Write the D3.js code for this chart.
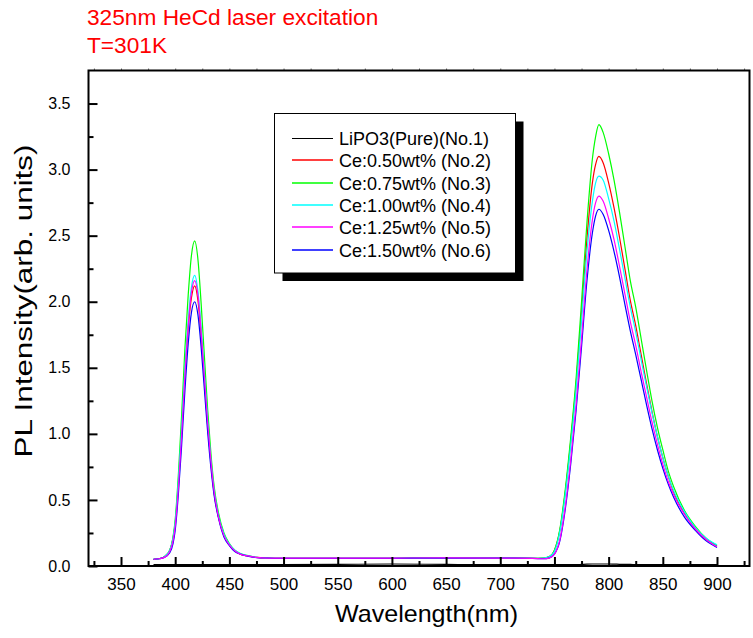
<!DOCTYPE html>
<html><head><meta charset="utf-8">
<script src="https://cdn.jsdelivr.net/npm/d3@7"></script>
<style>body{margin:0;background:#fff}svg{display:block}</style>
</head><body>
<svg id="c" width="753" height="638"></svg>
<script>
const wavelengths = [380,385,390,395,398,400,403,406,409,412,415,418,421,424,427,430,433,436,440,445,450,455,460,466,475,485,
  500,550,600,650,700,730,
  740,745,750,755,760,765,770,775,780,785,788,791,795,800,805,810,815,820,825,830,835,840,845,850,855,860,870,880,890,900];

const pure = [0.01,0.01,0.01,0.01,0.01,0.01,0.01,0.01,0.01,0.01,0.01,0.01,0.01,0.01,0.01,0.01,0.01,0.01,0.01,0.01,0.01,0.01,0.01,0.01,0.01,0.01,
  0.01,0.012,0.015,0.012,0.01,0.01,
  0.01,0.01,0.01,0.01,0.01,0.01,0.01,0.012,0.014,0.015,0.015,0.015,0.015,0.015,0.014,0.013,0.012,0.012,0.011,0.011,0.01,0.01,0.01,0.01,0.01,0.01,0.01,0.01,0.01,0.01];

const ce050 = [0.05,0.055,0.07,0.12,0.21,0.32,0.63,1.02,1.45,1.80,2.03,2.12,2.01,1.74,1.40,1.06,0.78,0.55,0.37,0.23,0.16,0.115,0.09,0.078,0.065,0.06,
  0.058,0.057,0.058,0.06,0.06,0.058,
  0.06,0.07,0.12,0.27,0.56,0.94,1.38,1.92,2.48,2.90,3.04,3.10,3.05,2.90,2.71,2.49,2.25,2.01,1.82,1.60,1.38,1.17,0.98,0.82,0.68,0.56,0.40,0.28,0.20,0.15];

const ce075 = [0.05,0.055,0.07,0.12,0.22,0.35,0.70,1.15,1.65,2.05,2.35,2.46,2.32,1.98,1.58,1.18,0.85,0.60,0.40,0.25,0.17,0.12,0.095,0.08,0.066,0.06,
  0.058,0.057,0.058,0.06,0.06,0.058,
  0.06,0.07,0.12,0.28,0.58,0.97,1.42,2.00,2.60,3.08,3.25,3.34,3.28,3.12,2.92,2.68,2.42,2.16,1.96,1.72,1.48,1.25,1.05,0.88,0.72,0.60,0.42,0.30,0.21,0.155];

const ce100 = [0.05,0.055,0.07,0.12,0.21,0.33,0.65,1.05,1.50,1.86,2.11,2.20,2.08,1.80,1.45,1.10,0.80,0.57,0.38,0.24,0.165,0.12,0.095,0.08,0.066,0.06,
  0.058,0.057,0.058,0.06,0.06,0.058,
  0.06,0.07,0.11,0.26,0.54,0.91,1.34,1.86,2.38,2.76,2.90,2.95,2.92,2.78,2.61,2.40,2.18,1.96,1.77,1.56,1.36,1.16,0.98,0.82,0.68,0.57,0.41,0.29,0.21,0.16];

const ce125 = [0.05,0.055,0.065,0.11,0.19,0.30,0.60,1.00,1.45,1.82,2.07,2.16,2.05,1.77,1.43,1.08,0.79,0.56,0.37,0.23,0.16,0.115,0.09,0.078,0.065,0.06,
  0.06,0.059,0.06,0.061,0.06,0.058,
  0.055,0.06,0.09,0.20,0.45,0.80,1.22,1.72,2.24,2.62,2.75,2.80,2.76,2.63,2.47,2.27,2.06,1.85,1.67,1.47,1.28,1.09,0.92,0.77,0.64,0.54,0.39,0.28,0.20,0.145];

const ce150 = [0.05,0.055,0.065,0.10,0.17,0.27,0.55,0.92,1.33,1.68,1.92,2.00,1.90,1.65,1.33,1.01,0.74,0.53,0.36,0.22,0.155,0.11,0.09,0.076,0.064,0.06,
  0.058,0.057,0.058,0.06,0.06,0.058,
  0.055,0.06,0.09,0.19,0.43,0.77,1.18,1.66,2.16,2.52,2.65,2.70,2.66,2.54,2.38,2.19,1.98,1.78,1.60,1.41,1.22,1.04,0.88,0.74,0.62,0.52,0.37,0.27,0.19,0.14];

const seriesNames = ["LiPO3(Pure)(No.1)","Ce:0.50wt% (No.2)","Ce:0.75wt% (No.3)","Ce:1.00wt% (No.4)","Ce:1.25wt% (No.5)","Ce:1.50wt% (No.6)"];
const seriesColors = ["#000000","#ff0000","#00ff00","#00ffff","#ff00ff","#0000ff"];
const seriesValues = [pure, ce050, ce075, ce100, ce125, ce150];
const drawOrder = [0,1,2,3,5,4];

const xMajorTicks = [350,400,450,500,550,600,650,700,750,800,850,900];
const xMinorTicks = [325,375,425,475,525,575,625,675,725,775,825,875,925];
const yMajorTicks = [0,0.5,1.0,1.5,2.0,2.5,3.0,3.5];
const yMinorTicks = [0.25,0.75,1.25,1.75,2.25,2.75,3.25];
const titleLines = ["325nm HeCd laser excitation","T=301K"];
const xTitle = "Wavelength(nm)";
const yTitle = "PL Intensity(arb. units)";

const svg = d3.select("#c");
const L = 88.5, R = 749.5, T = 70.5, B = 566;
const x = d3.scaleLinear().domain([320,930]).range([L,R]);
const y = d3.scaleLinear().domain([0,3.75]).range([B,T]);
const font = "'Liberation Sans', Arial, sans-serif";

// curves
const line = d3.line().x(d=>x(d[0])).y(d=>y(d[1])).curve(d3.curveMonotoneX);
const g = svg.append("g");
drawOrder.forEach(i=>{
  g.append("path").datum(wavelengths.map((w,k)=>[w,seriesValues[i][k]]))
   .attr("d",line).attr("fill","none").attr("stroke",seriesColors[i]).attr("stroke-width",1.2);
});

// axes
const xb = d3.axisBottom(x).tickValues(xMajorTicks).tickSizeInner(-9).tickSizeOuter(0).tickPadding(12).tickFormat(d3.format("d"));
const xAxisG = svg.append("g").attr("transform",`translate(0,${B})`).call(xb);
const xm = d3.axisBottom(x).tickValues(xMinorTicks).tickSizeInner(-5).tickSizeOuter(0).tickFormat("");
const xAxisM = svg.append("g").attr("transform",`translate(0,${B})`).call(xm);
const yl = d3.axisLeft(y).tickValues(yMajorTicks).tickSizeInner(-9).tickSizeOuter(0).tickPadding(18).tickFormat(d3.format(".1f"));
const yAxisG = svg.append("g").attr("transform",`translate(${L},0)`).call(yl);
const ym = d3.axisLeft(y).tickValues(yMinorTicks).tickSizeInner(-5).tickSizeOuter(0).tickFormat("");
const yAxisM = svg.append("g").attr("transform",`translate(${L},0)`).call(ym);
const xt = d3.axisTop(x).tickValues(xMajorTicks.concat(xMinorTicks)).tickSizeInner(2).tickSizeOuter(0).tickFormat("");
const xTopG = svg.append("g").attr("transform",`translate(0,${T})`).call(xt);
[xAxisG,xAxisM,yAxisG,yAxisM,xTopG].forEach(a=>{
  a.selectAll(".domain").remove();
  a.selectAll(".tick line").attr("stroke","#000").attr("stroke-width",2);
  a.selectAll("text").attr("font-family",font).attr("font-size",16).attr("fill","#000");
});
xAxisG.selectAll("text").attr("font-size",17);
xTopG.selectAll(".tick line").attr("stroke","#666").attr("stroke-width",1);
// frame
svg.append("rect").attr("x",L).attr("y",T).attr("width",R-L).attr("height",B-T)
  .attr("fill","none").attr("stroke","#000").attr("stroke-width",2);

// titles
svg.append("text").attr("x",87).attr("y",25).attr("fill","#ff0000").attr("font-family",font).attr("font-size",22.7).text(titleLines[0]);
svg.append("text").attr("x",87).attr("y",53).attr("fill","#ff0000").attr("font-family",font).attr("font-size",22.7).text(titleLines[1]);
svg.append("text").attr("x",426.5).attr("y",622).attr("text-anchor","middle").attr("font-family",font).attr("font-size",24)
  .attr("textLength",183).attr("lengthAdjust","spacingAndGlyphs").text(xTitle);
svg.append("text").attr("transform","translate(32,301) rotate(-90)").attr("text-anchor","middle").attr("font-family",font).attr("font-size",23)
  .attr("textLength",313).attr("lengthAdjust","spacingAndGlyphs").text(yTitle);

// legend
const lg = svg.append("g");
const lx = 274.5, ly = 113.5, lw = 241, lh = 159.5;
lg.append("rect").attr("x",lx+8).attr("y",ly+8).attr("width",lw).attr("height",lh).attr("fill","#000");
lg.append("rect").attr("x",lx).attr("y",ly).attr("width",lw).attr("height",lh).attr("fill","#fff").attr("stroke","#000").attr("stroke-width",1);
seriesNames.forEach((n,i)=>{
  const yy = Math.round(138 + i*22.3);
  const ly2 = i===0 ? yy + 0.5 : yy;
  lg.append("line").attr("x1",292).attr("x2",333).attr("y1",ly2).attr("y2",ly2).attr("stroke",seriesColors[i])
    .attr("stroke-width", i===0 ? 1 : 2).attr("stroke-opacity", i===0 ? 1 : 0.75);
  lg.append("text").attr("x",339).attr("y",yy+6.5).attr("font-family",font).attr("font-size",18).text(n);
});
</script>
</body></html>
